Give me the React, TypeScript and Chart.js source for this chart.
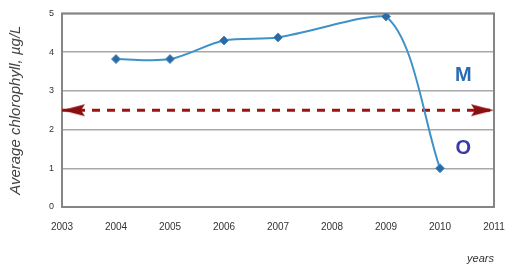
import React, { useEffect, useRef } from "react";
import { Chart, registerables } from "chart.js";

Chart.register(...registerables);

const years = [2004, 2005, 2006, 2007, 2009, 2010];
const chlorophyll = [3.82, 3.82, 4.3, 4.38, 4.92, 1.0];
const thresholdYears = [2003, 2011];
const thresholdValue = 2.5;
const labelTexts = ["M", "O"];
const labelX = [2010.43, 2010.43];
const labelY = [3.4, 1.52];
const labelColors = ["#2a6cb3", "#3a3aa8"];

function makeHead(dir: "left" | "right"): HTMLCanvasElement {
  const c = document.createElement("canvas");
  c.width = 50;
  c.height = 14;
  const g = c.getContext("2d")!;
  g.fillStyle = "#8b0f0f";
  g.beginPath();
  if (dir === "left") {
    g.moveTo(25, 7);
    g.lineTo(48, 1);
    g.lineTo(44, 7);
    g.lineTo(48, 13);
  } else {
    g.moveTo(25, 7);
    g.lineTo(2, 1);
    g.lineTo(6, 7);
    g.lineTo(2, 13);
  }
  g.closePath();
  g.fill();
  return c;
}

const framePlugin = {
  id: "frame",
  beforeDatasetsDraw(chart: any) {
    const { ctx, chartArea } = chart;
    ctx.save();
    ctx.strokeStyle = "#858585";
    ctx.lineWidth = 2;
    ctx.strokeRect(chartArea.left, chartArea.top, chartArea.right - chartArea.left, chartArea.bottom - chartArea.top);
    ctx.restore();
  },
  afterDatasetsDraw(chart: any) {
    const { ctx, scales } = chart;
    ctx.save();
    ctx.font = "bold 20px 'Liberation Sans', Arial, sans-serif";
    ctx.textAlign = "center";
    ctx.textBaseline = "middle";
    labelTexts.forEach((t, i) => {
      ctx.fillStyle = labelColors[i];
      ctx.fillText(t, scales.x.getPixelForValue(labelX[i]), scales.y.getPixelForValue(labelY[i]));
    });
    ctx.restore();
  },
};

export default function App() {
  const ref = useRef<HTMLCanvasElement>(null);
  useEffect(() => {
    const leftHead = makeHead("left");
    const rightHead = makeHead("right");
    const chart = new Chart(ref.current!, {
      type: "line",
      data: {
        datasets: [
          {
            data: years.map((x, i) => ({ x, y: chlorophyll[i] })),
            borderColor: "#3f92c8",
            borderWidth: 2,
            tension: 0.3,
            pointStyle: "rectRot",
            pointRadius: 4.5,
            pointBackgroundColor: "#2d6aa3",
            pointBorderColor: "#4a8fc4",
            pointBorderWidth: 1,
          },
          {
            data: thresholdYears.map((x) => ({ x, y: thresholdValue })),
            borderColor: "#a01212",
            borderWidth: 3,
            borderDash: [8, 7],
            pointStyle: [leftHead, rightHead] as any,
            pointRadius: 10,
          },
        ],
      },
      options: {
        animation: false,
        responsive: false,
        layout: { padding: { top: 13, right: 23, left: 7 } },
        plugins: { legend: { display: false }, tooltip: { enabled: false } },
        scales: {
          x: {
            type: "linear",
            min: 2003,
            max: 2011,
            ticks: {
              stepSize: 1,
              callback: (v: any) => String(v),
              color: "#333",
              font: { family: "'Liberation Sans', Arial, sans-serif", size: 10 },
              padding: 6,
            },
            grid: { display: false },
            border: { display: false },
            title: {
              display: true,
              text: "years",
              align: "end",
              color: "#333",
              font: { family: "'Liberation Sans', Arial, sans-serif", size: 11, style: "italic" },
              padding: { top: 12 },
            },
            afterFit: (s: any) => {
              s.height = 63;
            },
          },
          y: {
            min: 0,
            max: 5,
            ticks: {
              stepSize: 1,
              color: "#333",
              font: { family: "'Liberation Sans', Arial, sans-serif", size: 9 },
              padding: 8,
            },
            grid: { color: "#a8a8a8", lineWidth: 1.5, drawTicks: false },
            border: { display: false },
            title: {
              display: true,
              text: "Average chlorophyll, µg/L",
              color: "#444",
              font: { family: "'Liberation Sans', Arial, sans-serif", size: 15, style: "italic" },
              padding: { top: 0, bottom: 0 },
            },
            afterFit: (s: any) => {
              s.width = 55;
            },
          },
        },
      },
      plugins: [framePlugin],
    });
    return () => chart.destroy();
  }, []);
  return (
    <div style={{ position: "absolute", left: 0, top: 0, width: 517, height: 270, background: "#fff" }}>
      <canvas ref={ref} width={517} height={270} />
    </div>
  );
}
